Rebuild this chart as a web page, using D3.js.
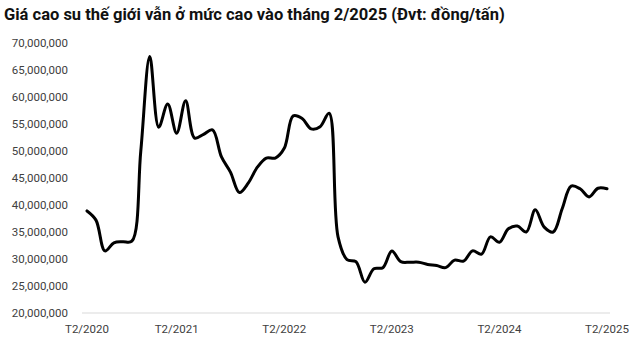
<!DOCTYPE html>
<html>
<head>
<meta charset="utf-8">
<script src="https://cdn.jsdelivr.net/npm/d3@7"></script>
<style>
  body { margin: 0; background: #fff; }
  svg { display: block; font-family: Roboto, "Noto Sans", sans-serif; }
</style>
</head>
<body>
<div id="chart"></div>
<script>
// monthly rubber price, T4/2020 .. T2/2025 (dong/ton, millions)
const months = d3.range(59);
const prices = [
  38.9, 37.2, 31.5, 33.0, 33.2, 33.3, 50.0, 67.5, 54.4, 58.7,
  53.3, 59.3, 52.4, 53.1, 53.9, 48.9, 46.1, 42.3, 44.1, 47.0,
  48.7, 48.7, 50.5, 56.5, 56.0, 54.1, 54.5, 57.0, 34.1, 29.9,
  29.5, 25.7, 28.2, 28.4, 31.5, 29.5, 29.4, 29.4, 29.0, 28.8,
  28.4, 29.8, 29.6, 31.5, 30.9, 34.1, 33.1, 35.6, 36.1, 35.0,
  39.1, 35.9, 35.0, 39.3, 43.5, 43.0, 41.5, 43.1, 43.0
];
const xTickIdx = [0, 10, 22, 34, 46, 58];
const xTickLabels = ["T2/2020", "T2/2021", "T2/2022", "T2/2023", "T2/2024", "T2/2025"];
const yTicks = [20, 25, 30, 35, 40, 45, 50, 55, 60, 65, 70];
const title = "Giá cao su thế giới vẫn ở mức cao vào tháng 2/2025 (Đvt: đồng/tấn)";

const width = 640, height = 344;

const svg = d3.select("#chart").append("svg")
  .attr("width", width)
  .attr("height", height);

const x = d3.scalePoint().domain(months).range([87, 607]);
const y = d3.scaleLinear().domain([20, 70]).range([313, 43]);

// title
const t = svg.append("text")
  .attr("x", 4)
  .attr("y", 20)
  .attr("font-size", 16)
  .attr("font-weight", "bold")
  .attr("fill", "#111")
  .text(title);
const tw = t.node().getComputedTextLength();
t.attr("font-size", 16 * 501 / tw);

// y axis labels
const fmt = d3.format(",");
svg.append("g")
  .selectAll("text")
  .data(yTicks)
  .join("text")
  .attr("x", 68)
  .attr("y", d => y(d))
  .attr("dy", "0.35em")
  .attr("text-anchor", "end")
  .attr("font-size", 11.5)
  .attr("fill", "#404040")
  .text(d => fmt(d * 1000000));

// baseline
svg.append("line")
  .attr("x1", 82)
  .attr("x2", 610)
  .attr("y1", y(20))
  .attr("y2", y(20))
  .attr("stroke", "#d9d9d9")
  .attr("stroke-width", 1);

// x axis labels
svg.append("g")
  .selectAll("text")
  .data(xTickIdx)
  .join("text")
  .attr("x", d => x(d))
  .attr("y", 333)
  .attr("text-anchor", "middle")
  .attr("font-size", 11.5)
  .attr("fill", "#404040")
  .text((d, i) => xTickLabels[i]);

// price line
const line = d3.line()
  .x((d, i) => x(months[i]))
  .y(d => y(d))
  .curve(d3.curveCatmullRom);

svg.append("path")
  .datum(prices)
  .attr("d", line)
  .attr("fill", "none")
  .attr("stroke", "#000")
  .attr("stroke-width", 3)
  .attr("stroke-linejoin", "round")
  .attr("stroke-linecap", "round");
</script>
</body>
</html>
